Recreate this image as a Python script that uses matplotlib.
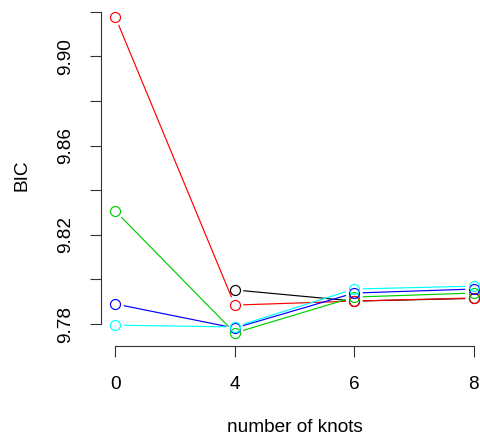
import numpy as np
import matplotlib
matplotlib.use("Agg")
import matplotlib.pyplot as plt

# BIC for each model against the number of knots
knots = ["0", "4", "6", "8"]
bic_black = [np.nan, 9.7953, 9.7903, 9.7915]
bic_red = [9.9177, 9.7885, 9.7903, 9.7917]
bic_green = [9.8307, 9.7760, 9.7921, 9.7939]
bic_blue = [9.7890, 9.7782, 9.7939, 9.7957]
bic_cyan = [9.7795, 9.7787, 9.7957, 9.7970]

series = [
    (bic_black, "#000000"),
    (bic_red, "#FF0000"),
    (bic_green, "#00CD00"),
    (bic_blue, "#0000FF"),
    (bic_cyan, "#00FFFF"),
]

y_ticks = [9.78, 9.80, 9.82, 9.84, 9.86, 9.88, 9.90, 9.92]
y_labels = ["9.78", "", "9.82", "", "9.86", "", "9.90", ""]

plt.rcParams["font.family"] = ["Liberation Sans", "DejaVu Sans"]
plt.rcParams["font.size"] = 13.7

W, H = 481, 442
fig = plt.figure(figsize=(W / 100, H / 100), dpi=100)
ax = fig.add_axes([101 / W, (H - 345.6) / H, (488 - 101) / W, (345.6 - 4.4) / H])

xpos = np.arange(1, len(knots) + 1)
all_vals = np.concatenate([np.array(s, float) for s, _ in series])
lo, hi = np.nanmin(all_vals), np.nanmax(all_vals)
pad = 0.04 * (hi - lo)
ax.set_xlim(xpos[0] - 0.04 * (xpos[-1] - xpos[0]), xpos[-1] + 0.04 * (xpos[-1] - xpos[0]))
ax.set_ylim(lo - pad, hi + pad)

fig.canvas.draw()
to_px = ax.transData
to_data = ax.transData.inverted()
gap = 8.5  # pixel gap between line ends and point centres (type = "b")

for vals, col in series:
    vals = np.array(vals, float)
    for i in range(len(vals) - 1):
        if np.isnan(vals[i]) or np.isnan(vals[i + 1]):
            continue
        p0 = to_px.transform((xpos[i], vals[i]))
        p1 = to_px.transform((xpos[i + 1], vals[i + 1]))
        d = p1 - p0
        L = np.hypot(*d)
        if L <= 2 * gap:
            continue
        u = d / L
        a = to_data.transform(p0 + u * gap)
        b = to_data.transform(p1 - u * gap)
        ax.plot([a[0], b[0]], [a[1], b[1]], color=col, lw=0.85, solid_capstyle="butt")
    ax.plot(xpos, vals, linestyle="none", marker="o", markersize=7.2,
            markerfacecolor="none", markeredgecolor=col, markeredgewidth=0.85)

for s in ["top", "right"]:
    ax.spines[s].set_visible(False)
ax.spines["left"].set_bounds(y_ticks[0], y_ticks[-1])
ax.spines["bottom"].set_bounds(xpos[0], xpos[-1])
for s in ["left", "bottom"]:
    ax.spines[s].set_color("#333333")
    ax.spines[s].set_linewidth(0.8)

ax.set_xticks(xpos)
ax.set_xticklabels(knots)
ax.set_yticks(y_ticks)
ax.set_yticklabels(y_labels, rotation=90, va="center")
ax.tick_params(axis="both", length=8, width=0.8, color="#333333", labelcolor="#000000")
ax.tick_params(axis="x", pad=14)
ax.tick_params(axis="y", pad=11)

fig.text(22 / W, 1 - 175 / H, "BIC", rotation=90, ha="center", va="center", fontsize=13.7)
fig.text((116 + 474) / 2 / W, 1 - 428 / H, "number of knots", ha="center", va="center", fontsize=13.7)

fig.savefig("out.png", dpi=100)
